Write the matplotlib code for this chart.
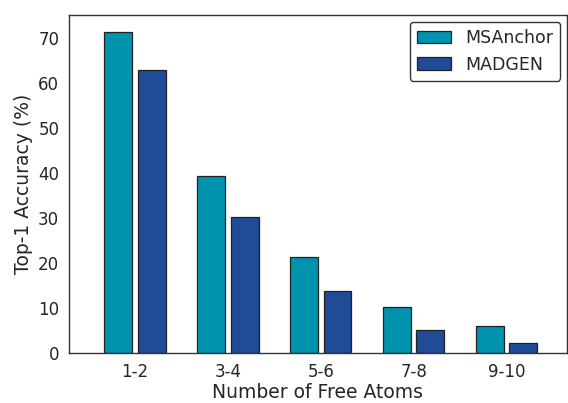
import matplotlib
matplotlib.use("Agg")
import numpy as np
import matplotlib.pyplot as plt
import seaborn as sns

sns.set_style("white")
plt.rcParams["font.family"] = ["DejaVu Sans"]

groups = ["1-2", "3-4", "5-6", "7-8", "9-10"]
msanchor = [71.3, 39.3, 21.2, 10.3, 5.9]
madgen = [62.9, 30.2, 13.7, 5.2, 2.3]

fig = plt.figure(figsize=(5.68, 4.03), dpi=100)
ax = fig.add_axes([69 / 568, 1 - 353 / 403, (567 - 69) / 568, (353 - 15) / 403])

x = np.arange(len(groups))
w = 0.30
ax.bar(x - 0.18, msanchor, w, color="#0093ae", edgecolor="#222222", linewidth=0.9, label="MSAnchor")
ax.bar(x + 0.18, madgen, w, color="#1f4b99", edgecolor="#222222", linewidth=0.9, label="MADGEN")

ax.set_xticks(x)
ax.set_xticklabels(groups, fontsize=12, color="#262626")
ax.tick_params(axis="y", labelsize=12, labelcolor="#262626")
ax.set_xlim(-0.71, 4.65)
ax.set_ylim(0, 75)
ax.set_xlabel("Number of Free Atoms", fontsize=13.5, color="#262626", labelpad=2)
ax.set_ylabel("Top-1 Accuracy (%)", fontsize=13.5, color="#262626")
for s in ax.spines.values():
    s.set_color("#333333")
    s.set_linewidth(1.0)
leg = ax.legend(loc="upper right", fontsize=12.5, edgecolor="#333333", framealpha=1,
                borderaxespad=0.4)
for t in leg.get_texts():
    t.set_color("#262626")

fig.savefig("out.png", dpi=100)
